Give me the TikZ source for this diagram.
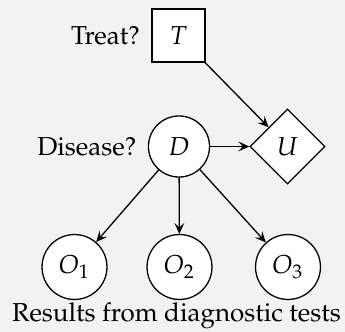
\documentclass[tikz,border=0pt]{standalone}
\usepackage[T1]{fontenc}
\usepackage{mathpazo}
\usetikzlibrary{arrows.meta,shapes.geometric}
\definecolor{bgcol}{HTML}{F2F2F2}
\begin{document}
\begin{tikzpicture}[x=0.385pt,y=-0.385pt,line width=0.5pt,
  every node/.style={font=\normalsize},
  decision/.style={draw,fill=white,rectangle,minimum size=20.4pt,inner sep=0pt},
  chance/.style={draw,fill=white,circle,minimum size=23.5pt,inner sep=0pt},
  obs/.style={draw,fill=white,circle,minimum size=25pt,inner sep=0pt},
  utility/.style={draw,fill=white,diamond,aspect=1,minimum size=28.9pt,inner sep=0pt},
  lbl/.style={inner sep=0pt},
  conn/.style={-{Stealth[length=4.2pt,width=3.8pt,inset=1.7pt]}}]
\fill[bgcol] (0,0) rectangle (345,332);
\useasboundingbox (0,0) rectangle (345,332);
\node[decision] (T) at (178.5,35.5) {$T$};
\node[lbl,anchor=base east] (tl) at (140.5,45) {Treat?};
\node[chance] (D) at (179,146.5) {$D$};
\node[lbl,anchor=base east] (dl) at (137,155.5) {Disease?};
\node[utility] (U) at (287.5,146.5) {$U$};
\node[obs] (O1) at (74.5,267) {$O_1$};
\node[obs] (O2) at (179.5,267) {$O_2$};
\node[obs] (O3) at (288,267) {$O_3$};
\node[lbl,anchor=base] (rl) at (176.5,321.5) {Results from diagnostic tests};
\draw[conn] (T) -- (U);
\draw[conn] (D) -- (U);
\draw[conn] (D) -- (O1);
\draw[conn] (D) -- (O2);
\draw[conn] (D) -- (O3);
\end{tikzpicture}
\end{document}
